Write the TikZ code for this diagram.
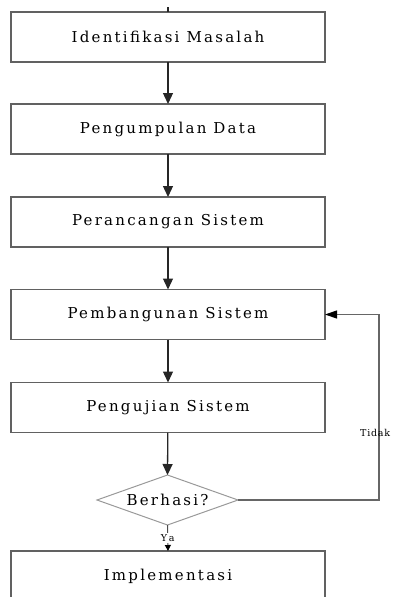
\documentclass[tikz,border=0pt]{standalone}
\usepackage{fontspec}
\setmainfont{DejaVu Serif}[LetterSpace=15]
\newfontfamily\lblfont{DejaVu Serif}[LetterSpace=25]
\newfontfamily\tidakfont{DejaVu Serif}[LetterSpace=8]
\usetikzlibrary{shapes.geometric,arrows.meta}
\begin{document}
\begin{tikzpicture}[x=1pt,y=-1pt,
  box/.style={draw=black!62, line width=1.3pt, minimum width=314pt, minimum height=50pt, inner sep=0pt, outer sep=0pt, font=\fontsize{15}{18}\selectfont},
  dec/.style={diamond, draw=black!40, line width=1pt, minimum width=141pt, minimum height=50pt, aspect=2.8, inner sep=0pt, outer sep=0pt, font=\fontsize{15}{18}\selectfont},
  arr/.style={draw=black!85, line width=1.3pt, -{Triangle[length=11pt,width=10pt]}},
  arrs/.style={draw=black!70, line width=1pt, -{Triangle[length=6pt,width=6pt,color=black]}},
  arrm/.style={draw=black!60, line width=1.1pt, -{Triangle[length=12pt,width=8pt,color=black]}},
  lbl/.style={font=\lblfont\fontsize{9.5}{11}\selectfont, inner sep=1pt}]
\useasboundingbox (0,0) rectangle (393,597);
\clip (0,0) rectangle (393,597);
\node[box] (n1) at (168,37) {Identifikasi Masalah};
\node[box] (n2) at (168,129) {Pengumpulan Data};
\node[box] (n3) at (168,222) {Perancangan Sistem};
\node[box] (n4) at (168,314.5) {Pembangunan Sistem};
\node[box] (n5) at (168,407.5) {Pengujian Sistem};
\node[dec] (d) at (167.5,500) {Berhasi?};
\node[box] (n6) at (168,576) {Implementasi};
\coordinate (top) at (168,7);
\coordinate (c1) at (379,500);
\coordinate (c2) at (379,314.5);
\draw[black!85, line width=1.3pt] (top) -- (n1.north);
\draw[arr] (n1) -- (n2);
\draw[arr] (n2) -- (n3);
\draw[arr] (n3) -- (n4);
\draw[arr] (n4) -- (n5);
\draw[arr] (n5) -- (d.north);
\draw[arrm] (d.east) -- (c1) -- (c2) -- (n4.east);
\node[inner sep=0pt, anchor=west, font=\tidakfont\fontsize{9.5}{11}\selectfont] (tidak) at (360,433) {Tidak};
\draw[arrs] (d.south) -- (n6.north) node[midway, lbl, fill=white] (ya) {Ya};
\end{tikzpicture}
\end{document}
